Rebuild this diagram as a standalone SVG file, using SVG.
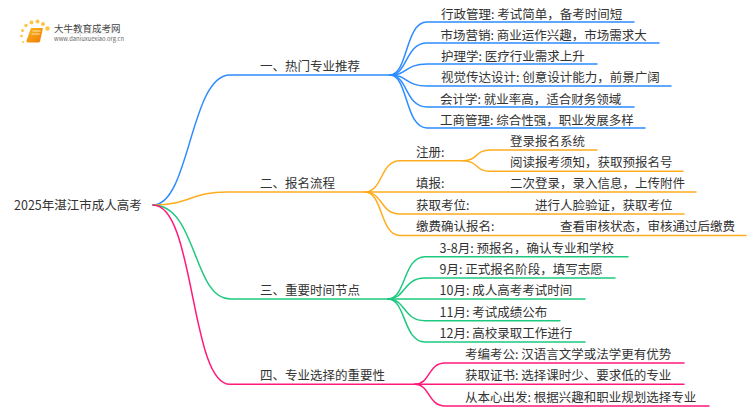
<svg xmlns="http://www.w3.org/2000/svg" width="750" height="410" viewBox="0 0 750 410">
<defs>
<linearGradient id="bk" x1="0" y1="0" x2="1" y2="1"><stop offset="0" stop-color="#fbb820"/><stop offset="1" stop-color="#ee7a06"/></linearGradient>
<linearGradient id="rule" x1="0" y1="0" x2="1" y2="0"><stop offset="0" stop-color="#ddd" stop-opacity="0"/><stop offset=".4" stop-color="#ddd"/><stop offset="1" stop-color="#ddd" stop-opacity="0"/></linearGradient>
</defs>
<style>
text{font-family:"Noto Sans CJK SC","Noto Sans",sans-serif;font-size:12.5px;fill:#333}
.c path{fill:none;stroke-width:1.5;stroke-linecap:round}
.b path{stroke:#2d8cff}.o path{stroke:#ffad1f}.g path{stroke:#1ec97f}.p path{stroke:#ff1a7a}
.d{fill:#fcc440}
</style>
<rect width="750" height="410" fill="#fff"/>
<g id="logo">
<circle class="d" cx="23" cy="42" r="1"/><circle class="d" cx="21.500" cy="36" r="1.300"/><circle class="d" cx="22.500" cy="30.500" r="1.500"/><circle class="d" cx="26" cy="25.500" r="1.700"/><circle class="d" cx="31.500" cy="22.500" r="1.900"/><circle class="d" cx="37.500" cy="21.500" r="2"/><circle class="d" cx="43" cy="24" r="2"/><circle class="d" cx="47.500" cy="28.500" r="2.200"/>
<path d="M31 28h12l-3 13.500q-.5 1-2 1H28q-2 0-1.500-2z" fill="url(#bk)"/>
<path d="M32.500 31h8M31.500 34h8" stroke="#ffe9a8" stroke-width="1" fill="none"/>
<rect x="47" y="32.700" width="86" height="1" fill="url(#rule)"/>
<text x="54" y="31.500" style="font-size:9.500px;fill:#444">大牛教育成考网</text>
<text x="54" y="41" style="font-size:5.800px;fill:#666">www.daniuxuexiao.org.cn</text>
</g>
<g id="connectors" class="c">
<g class="b">
<path d="M153 205C190 205 190 75 230 75H390"/>
<path d="M390 75C408 75 405 22 427 22H634"/>
<path d="M390 75C408 75 405 43 427 43H659"/>
<path d="M390 75C408 75 405 64 427 64H597"/>
<path d="M390 75C408 75 405 86 427 86H671"/>
<path d="M390 75C408 75 405 107 427 107H634"/>
<path d="M390 75C408 75 405 128 427 128H645"/>
</g>
<g class="o">
<path d="M153 205C190 205 190 192 227 192H365"/>
<path d="M365 192C383 192 380 160.700 400 160.700H463"/>
<path d="M463 160.700C478 160.700 475 150 490 150H597"/>
<path d="M463 160.700C478 160.700 475 171.300 490 171.300H683"/>
<path d="M365 192H696"/>
<path d="M365 192C383 192 380 214 400 214H684"/>
<path d="M365 192C383 192 380 235.500 400 235.500H746"/>
</g>
<g class="g">
<path d="M153 205C197 205 193 299 230 299H388"/>
<path d="M388 299C406 299 403 256.700 425 256.700H628"/>
<path d="M388 299C406 299 403 278 425 278H615"/>
<path d="M388 299H585"/>
<path d="M388 299C406 299 403 320.700 425 320.700H560"/>
<path d="M388 299C406 299 403 342 425 342H585"/>
</g>
<g class="p">
<path d="M153 205C195 205 190 384.300 230 384.300H415"/>
<path d="M415 384.300C430 384.300 428 363 445 363H684"/>
<path d="M415 384.300H684"/>
<path d="M415 384.300C430 384.300 428 406 445 406H709"/>
</g>
</g>
<g id="root"><text x="14" y="209.500">2025年湛江市成人高考</text></g>
<g id="n1"><text x="260" y="71">一、热门专业推荐</text></g>
<g id="n1-1"><text x="441" y="18.500">行政管理: 考试简单，备考时间短</text></g>
<g id="n1-2"><text x="440.500" y="39.500">市场营销: 商业运作兴趣，市场需求大</text></g>
<g id="n1-3"><text x="441" y="60.500">护理学: 医疗行业需求上升</text></g>
<g id="n1-4"><text x="441" y="82">视觉传达设计: 创意设计能力，前景广阔</text></g>
<g id="n1-5"><text x="440" y="103.500">会计学: 就业率高，适合财务领域</text></g>
<g id="n1-6"><text x="440" y="124.500">工商管理: 综合性强，职业发展多样</text></g>
<g id="n2"><text x="260" y="188">二、报名流程</text></g>
<g id="n2-1"><text x="416" y="157">注册:</text></g>
<g id="n2-1-1"><text x="510" y="146">登录报名系统</text></g>
<g id="n2-1-2"><text x="510" y="167">阅读报考须知，获取预报名号</text></g>
<g id="n2-2"><text x="416" y="188">填报:</text><text x="510" y="188">二次登录，录入信息，上传附件</text></g>
<g id="n2-3"><text x="416" y="210">获取考位:</text><text x="535" y="210">进行人脸验证，获取考位</text></g>
<g id="n2-4"><text x="416" y="231">缴费确认报名:</text><text x="560" y="231">查看审核状态，审核通过后缴费</text></g>
<g id="n3"><text x="260" y="295">三、重要时间节点</text></g>
<g id="n3-1"><text x="439.500" y="252.500">3-8月: 预报名，确认专业和学校</text></g>
<g id="n3-2"><text x="439.500" y="274">9月: 正式报名阶段，填写志愿</text></g>
<g id="n3-3"><text x="439.500" y="295">10月: 成人高考考试时间</text></g>
<g id="n3-4"><text x="439.500" y="316.500">11月: 考试成绩公布</text></g>
<g id="n3-5"><text x="439.500" y="338">12月: 高校录取工作进行</text></g>
<g id="n4"><text x="260" y="380">四、专业选择的重要性</text></g>
<g id="n4-1"><text x="465" y="359">考编考公: 汉语言文学或法学更有优势</text></g>
<g id="n4-2"><text x="465" y="380">获取证书: 选择课时少、要求低的专业</text></g>
<g id="n4-3"><text x="465" y="402">从本心出发: 根据兴趣和职业规划选择专业</text></g>
</svg>
